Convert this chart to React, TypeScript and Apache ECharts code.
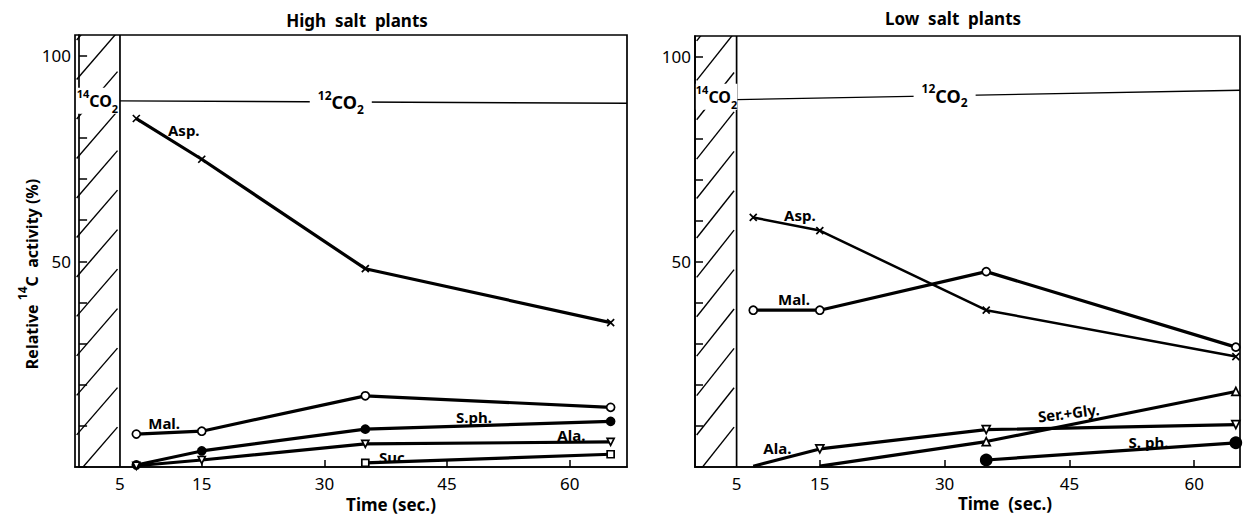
import React, { useEffect, useRef } from 'react';
import * as echarts from 'echarts';

// ---- data ----
const TIMES = [7, 15, 35, 65];
const TIMES_LATE = [35, 65];
const TIMES_SERGLY = [15, 35, 65];

// High salt plants
const HIGH_ASP = [84.7, 74.8, 48.2, 35.1];
const HIGH_MAL = [8.0, 8.7, 17.3, 14.5];
const HIGH_SPH = [0.5, 3.9, 9.2, 11.1];
const HIGH_ALA = [0.3, 1.7, 5.6, 6.1];
const HIGH_SUC = [1.0, 3.1];

// Low salt plants
const LOW_ASP = [60.8, 57.6, 38.2, 26.9];
const LOW_MAL = [38.2, 38.2, 47.6, 29.2];
const LOW_SERGLY = [0.2, 6.2, 18.4];
const LOW_ALA = [0.2, 4.4, 9.1, 10.3];
const LOW_SPH = [1.7, 5.9];

const X_LABELS = [5, 15, 30, 45, 60];
const X_TICKS = [15, 30, 45, 60];
const Y_TICKS = [0, 10, 20, 30, 40, 50, 60, 70, 80, 90, 100];
const Y_LABELS = [50, 100];

const PULSE_END = 5; // end of the 14CO2 pulse (sec)
const CO2_LINE_HIGH = [[5, 89.0], [67, 88.4]];
const CO2_LINE_LOW = [[5, 89.5], [65.5, 91.8]];

const LABELS_HIGH: [number, number, string][] = [
  [12.8, 82, 'Asp.'],
  [10.4, 10.6, 'Mal.'],
  [48.3, 12.1, 'S.ph.'],
  [60.2, 7.7, 'Ala.'],
  [38.5, 2.4, 'Suc.'],
];
const LABELS_LOW: [number, number, string][] = [
  [12.6, 61.5, 'Asp.'],
  [11.9, 40.9, 'Mal.'],
  [9.9, 4.6, 'Ala.'],
  [54.5, 6.1, 'S. ph.'],
];
const SERGLY_LABEL: [number, number, string] = [44.9, 13.2, 'Ser.+Gly.'];

const FONT = '"Noto Sans", "DejaVu Sans", sans-serif';
const X_SYM = 'path://M0,0L10,10M10,0L0,10';

const NO_BORDER = { textBorderWidth: 0, textBorderColor: 'transparent', textShadowBlur: 0 };

function co2Rich(big: number, small: number) {
  const base = { fontWeight: 'bold', color: '#000', fontFamily: FONT, lineHeight: 26, ...NO_BORDER };
  return {
    sup: { ...base, fontSize: small, verticalAlign: 'top' },
    n: { ...base, fontSize: big, verticalAlign: 'middle' },
    sub: { ...base, fontSize: small, verticalAlign: 'bottom' },
  };
}

function lineSeries(
  g: number,
  t: number[],
  v: number[],
  symbol: string,
  size: number,
  fill: string,
  width: number,
  rotate = 0,
  hideFirst = false
) {
  return {
    type: 'line',
    xAxisIndex: g,
    yAxisIndex: g,
    data: t.map((x, i) => ({ value: [x, v[i]], symbol: hideFirst && i === 0 ? 'none' : symbol })),
    symbol,
    symbolSize: size,
    symbolRotate: rotate,
    showAllSymbol: true,
    lineStyle: { color: '#000', width },
    itemStyle: { color: fill, borderColor: '#000', borderWidth: 1.7, opacity: 1 },
    z: 4,
    silent: true,
    clip: false,
  };
}

function hatchSeries(g: number, x0: number, ymax: number) {
  return {
    type: 'custom',
    xAxisIndex: g,
    yAxisIndex: g,
    clip: true,
    silent: true,
    z: 1,
    data: [[x0, 0]],
    renderItem: (_p: any, api: any) => {
      const children: any[] = [];
      for (let b = -21; b < 112; b += 9.6) {
        const p1 = api.coord([x0 + 0.2, b]);
        const p2 = api.coord([PULSE_END - 0.3, b + 11.5]);
        children.push({
          type: 'line',
          shape: { x1: p1[0], y1: p1[1], x2: p2[0], y2: p2[1] },
          style: { stroke: '#000', lineWidth: 1.4 },
        });
      }
      const a = api.coord([PULSE_END, 0]);
      const c = api.coord([PULSE_END, ymax]);
      children.push({
        type: 'line',
        shape: { x1: a[0], y1: a[1], x2: c[0], y2: c[1] },
        style: { stroke: '#000', lineWidth: 1.7 },
      });
      return { type: 'group', children };
    },
  };
}

function co2LineSeries(g: number, pts: number[][]) {
  return {
    type: 'line',
    xAxisIndex: g,
    yAxisIndex: g,
    data: pts,
    symbol: 'none',
    lineStyle: { color: '#000', width: 1.4 },
    z: 2,
    silent: true,
  };
}

function labelSeries(g: number, items: any[]) {
  return {
    type: 'scatter',
    xAxisIndex: g,
    yAxisIndex: g,
    symbolSize: 0,
    silent: true,
    z: 10,
    itemStyle: { opacity: 1 },
    data: items,
    label: {
      show: true,
      position: 'inside',
      color: '#000',
      fontSize: 15,
      fontWeight: 'bold',
      fontFamily: FONT,
      ...NO_BORDER,
      formatter: (p: any) => p.name,
    },
  };
}

function co2Label(g: number, x: number, y: number, sup: string, left: boolean, big: number, small: number) {
  return {
    type: 'scatter',
    xAxisIndex: g,
    yAxisIndex: g,
    symbolSize: 0,
    silent: true,
    z: 11,
    itemStyle: { opacity: 1 },
    data: [{ name: `{sup|${sup}}{n|CO}{sub|2}`, value: [x, y] }],
    label: {
      show: true,
      position: 'inside',
      align: left ? 'left' : 'center',
      color: '#000',
      formatter: (p: any) => p.name,
      backgroundColor: '#fff',
      padding: left ? [0, 0] : [0, 8],
      ...NO_BORDER,
      rich: co2Rich(big, small),
    },
  };
}

function textItems(list: [number, number, string][]) {
  return list.map((l) => ({ name: l[2], value: [l[0], l[1]] }));
}

function xAxis(g: number, min: number, max: number) {
  return {
    type: 'value',
    gridIndex: g,
    min,
    max,
    axisLine: { show: true, lineStyle: { color: '#000', width: 1.7 } },
    axisTick: { show: true, inside: true, length: 7, customValues: X_TICKS, lineStyle: { color: '#000', width: 1.5 } },
    axisLabel: { show: true, customValues: X_LABELS, color: '#000', fontSize: 17, fontFamily: FONT, margin: 8 },
    splitLine: { show: false },
  };
}

function yAxis(g: number) {
  return {
    type: 'value',
    gridIndex: g,
    min: 0,
    max: 105,
    axisLine: { show: true, lineStyle: { color: '#000', width: 1.7 } },
    axisTick: { show: true, inside: true, length: 8, customValues: Y_TICKS, lineStyle: { color: '#000', width: 1.5 } },
    axisLabel: { show: true, customValues: Y_LABELS, color: '#000', fontSize: 17, fontFamily: FONT, margin: 4 },
    splitLine: { show: false },
  };
}

export default function App() {
  const ref = useRef<HTMLDivElement>(null);
  useEffect(() => {
    if (!ref.current) return;
    const chart = echarts.init(ref.current, undefined, { renderer: 'svg' });
    const option: any = {
      animation: false,
      backgroundColor: '#fff',
      grid: [
        { left: 75, top: 35, width: 552, height: 432, show: true, borderColor: '#000', borderWidth: 1.7, backgroundColor: 'transparent' },
        { left: 695, top: 36, width: 545, height: 431, show: true, borderColor: '#000', borderWidth: 1.7, backgroundColor: 'transparent' },
      ],
      xAxis: [xAxis(0, -0.5, 67), xAxis(1, 0, 65.5)],
      yAxis: [yAxis(0), yAxis(1)],
      graphic: [
        { type: 'text', x: 357, y: 20, style: { text: 'High  salt  plants', align: 'center', verticalAlign: 'middle', fill: '#000', font: `bold 17px ${FONT}` } },
        { type: 'text', x: 953, y: 18, style: { text: 'Low  salt  plants', align: 'center', verticalAlign: 'middle', fill: '#000', font: `bold 17px ${FONT}` } },
        { type: 'text', x: 391, y: 504, style: { text: 'Time (sec.)', align: 'center', verticalAlign: 'middle', fill: '#000', font: `bold 17px ${FONT}` } },
        { type: 'text', x: 1005, y: 503, style: { text: 'Time  (sec.)', align: 'center', verticalAlign: 'middle', fill: '#000', font: `bold 17px ${FONT}` } },
        {
          type: 'text',
          x: 28,
          y: 274,
          rotation: Math.PI / 2,
          style: {
            text: '{n|Relative }{s|14}{n|C  activity (%)}',
            align: 'center',
            verticalAlign: 'middle',
            fill: '#000',
            rich: {
              n: { fontSize: 16, fontWeight: 'bold', fontFamily: FONT, verticalAlign: 'bottom', lineHeight: 24, fill: '#000' },
              s: { fontSize: 12, fontWeight: 'bold', fontFamily: FONT, verticalAlign: 'top', lineHeight: 24, fill: '#000' },
            },
          },
        },
      ],
      series: [
        hatchSeries(0, -0.5, 105),
        hatchSeries(1, 0, 105),
        co2LineSeries(0, CO2_LINE_HIGH),
        co2LineSeries(1, CO2_LINE_LOW),
        // High salt plants
        lineSeries(0, TIMES, HIGH_ASP, X_SYM, 7, 'transparent', 3.2),
        lineSeries(0, TIMES, HIGH_MAL, 'circle', 8, '#fff', 3.2),
        lineSeries(0, TIMES, HIGH_SPH, 'circle', 8, '#000', 3.2),
        lineSeries(0, TIMES, HIGH_ALA, 'triangle', 7, '#fff', 3.2, 180),
        lineSeries(0, TIMES_LATE, HIGH_SUC, 'rect', 7, '#fff', 3.2),
        // Low salt plants
        lineSeries(1, TIMES, LOW_ASP, X_SYM, 7, 'transparent', 2.5),
        lineSeries(1, TIMES, LOW_MAL, 'circle', 8, '#fff', 3.2),
        lineSeries(1, TIMES_SERGLY, LOW_SERGLY, 'triangle', 8, '#fff', 3.2, 0, true),
        lineSeries(1, TIMES, LOW_ALA, 'triangle', 8, '#fff', 3.2, 180, true),
        lineSeries(1, TIMES_LATE, LOW_SPH, 'circle', 11, '#000', 3.2),
        // text labels
        labelSeries(0, textItems(LABELS_HIGH)),
        labelSeries(1, [
          ...textItems(LABELS_LOW),
          { name: SERGLY_LABEL[2], value: [SERGLY_LABEL[0], SERGLY_LABEL[1]], label: { rotate: 7 } },
        ]),
        co2Label(0, 32, 88.7, '12', false, 18, 12),
        co2Label(0, -0.3, 89, '14', true, 16, 11),
        co2Label(1, 30, 90.4, '12', false, 18, 12),
        co2Label(1, 0.1, 90.2, '14', true, 16, 11),
      ],
    };
    chart.setOption(option);
    return () => chart.dispose();
  }, []);
  return <div ref={ref} style={{ position: 'fixed', left: 0, top: 0, width: 1243, height: 514 }} />;
}
